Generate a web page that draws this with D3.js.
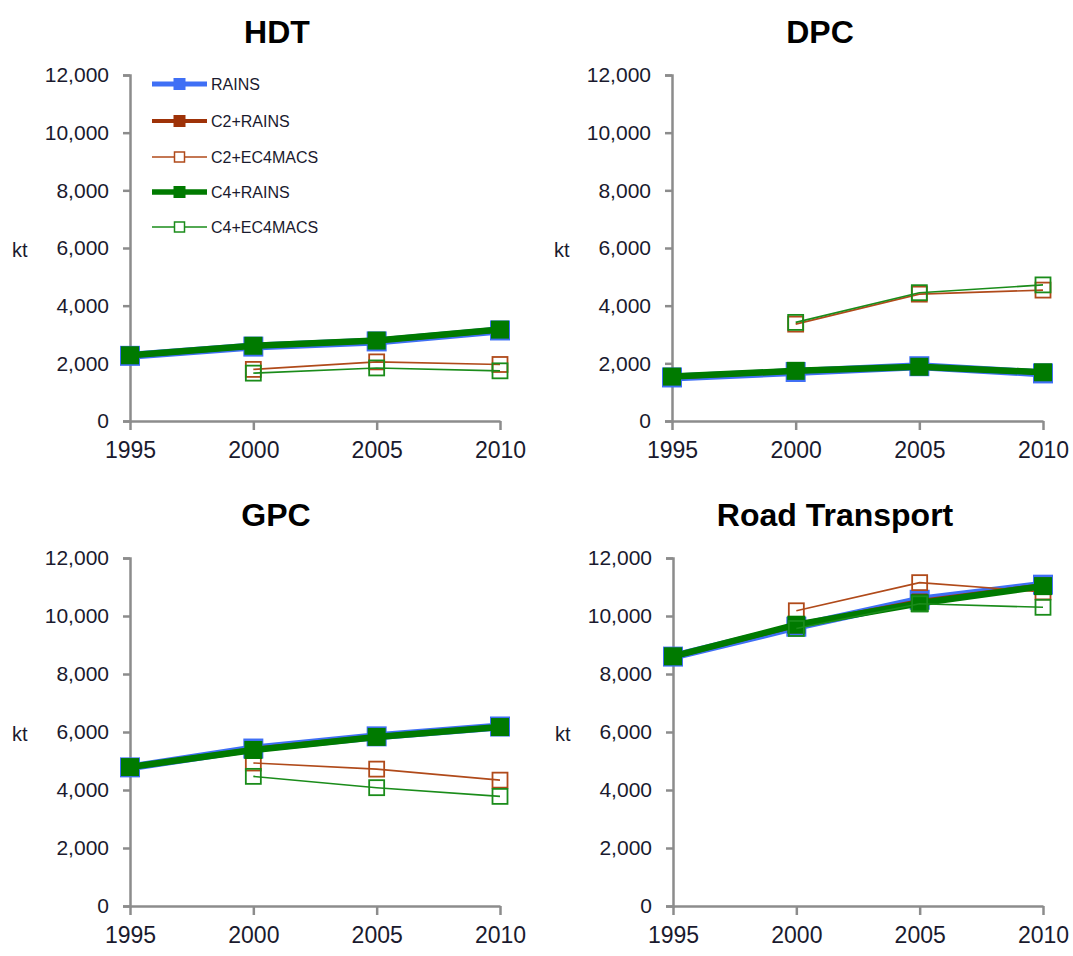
<!DOCTYPE html>
<html><head><meta charset="utf-8">
<script src="https://cdn.jsdelivr.net/npm/d3@7"></script>
<style>body{margin:0;background:#fff}svg{display:block}text{font-family:"Liberation Sans",Arial,sans-serif}</style>
</head><body><svg id="c" width="1073" height="956"></svg>
<script>
const years = [1995, 2000, 2005, 2010];
const yTicks = [0, 2000, 4000, 6000, 8000, 10000, 12000];
const panelTitles = ["HDT", "DPC", "GPC", "Road Transport"];
const seriesNames = ["RAINS", "C2+RAINS", "C2+EC4MACS", "C4+RAINS", "C4+EC4MACS"];
// values per panel (null = no data)
const hdtRAINS      = [2260, 2580, 2760, 3140];
const hdtC2RAINS    = [2270, 2600, 2780, 3160];
const hdtC2EC4MACS  = [null, 1790, 2050, 1960];
const hdtC4RAINS    = [2280, 2610, 2790, 3170];
const hdtC4EC4MACS  = [null, 1660, 1840, 1740];
const dpcRAINS      = [1510, 1700, 1900, 1650];
const dpcC2RAINS    = [1530, 1730, 1880, 1680];
const dpcC2EC4MACS  = [null, 3360, 4400, 4540];
const dpcC4RAINS    = [1540, 1740, 1880, 1690];
const dpcC4EC4MACS  = [null, 3420, 4450, 4720];
const gpcRAINS      = [4780, 5430, 5850, 6190];
const gpcC2RAINS    = [4790, 5400, 5840, 6180];
const gpcC2EC4MACS  = [null, 4930, 4720, 4340];
const gpcC4RAINS    = [4790, 5380, 5830, 6170];
const gpcC4EC4MACS  = [null, 4470, 4080, 3780];
const rtRAINS       = [8600, 9630, 10560, 11080];
const rtC2RAINS     = [8600, 9680, 10500, 11050];
const rtC2EC4MACS   = [null, 10180, 11150, 10830];
const rtC4RAINS     = [8610, 9700, 10440, 11030];
const rtC4EC4MACS   = [null, 9570, 10420, 10300];

const panelData = [
  [hdtRAINS, hdtC2RAINS, hdtC2EC4MACS, hdtC4RAINS, hdtC4EC4MACS],
  [dpcRAINS, dpcC2RAINS, dpcC2EC4MACS, dpcC4RAINS, dpcC4EC4MACS],
  [gpcRAINS, gpcC2RAINS, gpcC2EC4MACS, gpcC4RAINS, gpcC4EC4MACS],
  [rtRAINS, rtC2RAINS, rtC2EC4MACS, rtC4RAINS, rtC4EC4MACS]
];

const styles = [
  {color:"#3f6ff5", lw:8, ms:20, fill:true},
  {color:"#9e3208", lw:5, ms:16, fill:true},
  {color:"#b04a1a", lw:1.6, ms:15, fill:false},
  {color:"#007a00", lw:6.5, ms:18, fill:true},
  {color:"#1a8c1a", lw:1.6, ms:15, fill:false}
];

const layout = [
  {x0:130, x1:500, y0:421, y1:75, tx:277, ty:43},
  {x0:672, x1:1043, y0:421, y1:75, tx:820, ty:43},
  {x0:130, x1:500, y0:906, y1:558, tx:276, ty:526},
  {x0:673, x1:1043, y0:906, y1:558, tx:835, ty:526}
];

const svg = d3.select("#c");
const fmt = d3.format(",");
const axisColor = "#8c8c8c";
const textColor = "#1a1a2e";

layout.forEach((L, pi) => {
  const g = svg.append("g");
  const x = d3.scalePoint().domain(years).range([L.x0, L.x1]);
  const y = d3.scaleLinear().domain([0, 12000]).range([L.y0, L.y1]);

  g.append("text").attr("x", L.tx).attr("y", L.ty).attr("text-anchor","middle")
    .attr("font-size", 32).attr("font-weight","bold").attr("fill","#000").text(panelTitles[pi]);

  // y axis
  const ya = g.append("g").attr("transform",`translate(${L.x0},0)`)
    .call(d3.axisLeft(y).tickValues(yTicks).tickFormat(fmt).tickSize(7).tickPadding(14));
  ya.select(".domain").attr("stroke",axisColor).attr("stroke-width",2.5);
  ya.selectAll(".tick line").attr("stroke",axisColor).attr("stroke-width",2.5);
  ya.selectAll(".tick text").attr("font-size",21).attr("fill",textColor)
    .attr("font-family","'Liberation Sans',Arial,sans-serif");

  // x axis
  const xa = g.append("g").attr("transform",`translate(0,${L.y0})`)
    .call(d3.axisBottom(x).tickSize(9).tickPadding(12).tickSizeOuter(0));
  xa.select(".domain").attr("stroke",axisColor).attr("stroke-width",2.5);
  xa.selectAll(".tick line").attr("stroke",axisColor).attr("stroke-width",2.5);
  xa.selectAll(".tick text").attr("font-size",23).attr("fill",textColor)
    .attr("font-family","'Liberation Sans',Arial,sans-serif");

  g.append("text").attr("x", L.x0 - 118).attr("y", (L.y0 + L.y1)/2 + 9)
    .attr("font-size",20).attr("fill",textColor).text("kt");

  panelData[pi].forEach((vals, si) => {
    const s = styles[si];
    const pts = vals.map((v,i) => ({v, yr: years[i]})).filter(d => d.v != null);
    g.append("path").datum(pts).attr("fill","none").attr("stroke",s.color)
      .attr("stroke-width",s.lw).attr("stroke-linejoin","round")
      .attr("d", d3.line().x(d => x(d.yr)).y(d => y(d.v)));
    g.selectAll(null).data(pts).enter().append("rect")
      .attr("x", d => x(d.yr) - s.ms/2).attr("y", d => y(d.v) - s.ms/2)
      .attr("width", s.ms).attr("height", s.ms)
      .attr("fill", s.fill ? s.color : "#fff")
      .attr("fill-opacity", s.fill ? 1 : 0)
      .attr("stroke", s.color).attr("stroke-width", s.fill ? 0 : 1.8);
  });
});

// legend
const legendRows = [84, 121, 157, 192, 227];
const legendStyles = [
  {lw:5, ms:12}, {lw:4, ms:12}, {lw:1.5, ms:10}, {lw:5.5, ms:12}, {lw:1.5, ms:10}
];
const lg = svg.append("g");
seriesNames.forEach((name, i) => {
  const s = styles[i], ls = legendStyles[i], yy = legendRows[i];
  lg.append("line").attr("x1",152).attr("x2",207).attr("y1",yy).attr("y2",yy)
    .attr("stroke",s.color).attr("stroke-width",ls.lw);
  lg.append("rect").attr("x",179.5-ls.ms/2).attr("y",yy-ls.ms/2).attr("width",ls.ms).attr("height",ls.ms)
    .attr("fill", s.fill ? s.color : "#fff").attr("stroke", s.color).attr("stroke-width", s.fill ? 0 : 1.5);
  lg.append("text").attr("x",211).attr("y",yy+6).attr("font-size",16).attr("fill",textColor)
    .attr("font-family","'Liberation Sans',Arial,sans-serif").text(name);
});
</script></body></html>
